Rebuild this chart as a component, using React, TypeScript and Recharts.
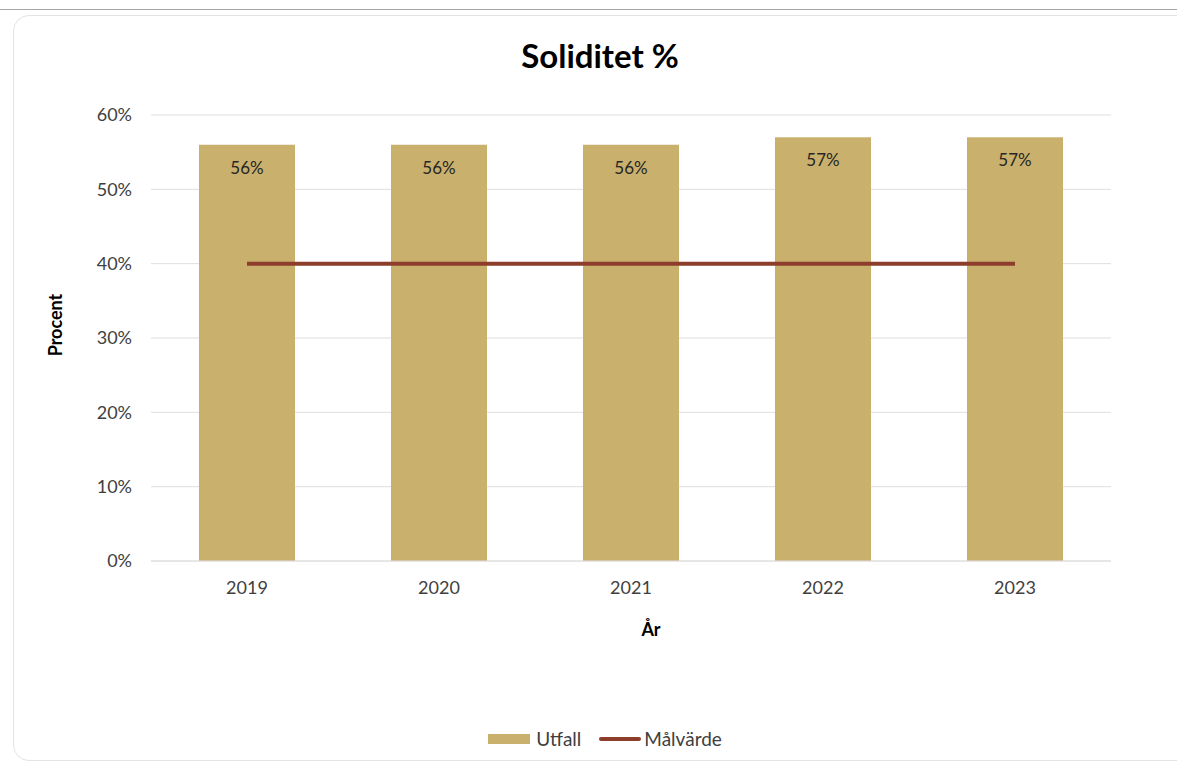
import React from "react";
import {
  ComposedChart,
  Bar,
  Line,
  XAxis,
  YAxis,
  CartesianGrid,
  Legend,
  LabelList,
  Label,
} from "recharts";

// ---------------------------------------------------------------------------
// Data
// ---------------------------------------------------------------------------

const YEARS = ["2019", "2020", "2021", "2022", "2023"];
const UTFALL = [56, 56, 56, 57, 57];
const MALVARDE = [40, 40, 40, 40, 40];
const Y_TICKS = [0, 10, 20, 30, 40, 50, 60];

const data = YEARS.map((year, i) => ({
  year,
  utfall: UTFALL[i],
  malvarde: MALVARDE[i],
}));

const FONT = "Lato, 'Open Sans', sans-serif";
const BAR_COLOR = "#c9b06c";
const LINE_COLOR = "#8c3d2b";

// ---------------------------------------------------------------------------
// Legend
// ---------------------------------------------------------------------------

function ChartLegend() {
  return (
    <div
      style={{
        display: "flex",
        justifyContent: "center",
        alignItems: "center",
        fontFamily: FONT,
        fontSize: 19,
        color: "#404040",
      }}
    >
      <span style={{ display: "inline-block", width: 42, height: 10, background: BAR_COLOR, marginRight: 6 }} />
      <span style={{ marginRight: 18 }}>Utfall</span>
      <span
        style={{
          display: "inline-block",
          width: 42,
          height: 4,
          borderRadius: 2,
          background: LINE_COLOR,
          marginRight: 3,
        }}
      />
      <span>Målvärde</span>
    </div>
  );
}

// ---------------------------------------------------------------------------
// Component
// ---------------------------------------------------------------------------

export default function App() {
  return (
    <div style={{ position: "absolute", left: 0, top: 0, width: 1177, height: 763, background: "#fff", overflow: "hidden" }}>
      <div style={{ position: "absolute", left: 0, top: 9, width: 1177, height: 1, background: "#a6a6a6" }} />
      <div
        style={{
          position: "absolute",
          left: 13,
          top: 15,
          width: 1190,
          height: 744,
          border: "1px solid #e3e3e3",
          borderRadius: 16,
        }}
      />
      <div
        style={{
          position: "absolute",
          left: 0,
          top: 34,
          width: 1200,
          textAlign: "center",
          fontFamily: FONT,
          fontWeight: 700,
          fontSize: 33,
          lineHeight: "42px",
          color: "#000",
        }}
      >
        Soliditet %
      </div>
      <div style={{ position: "absolute", left: 0, top: 0 }}>
        <ComposedChart
          width={1177}
          height={763}
          data={data}
          margin={{ top: 115, right: 66, left: 0, bottom: 89 }}
          barCategoryGap="25%"
        >
          <CartesianGrid vertical={false} stroke="#dedede" />
          <XAxis
            dataKey="year"
            height={90}
            axisLine={{ stroke: "#dedede" }}
            tickLine={false}
            tick={{ fontFamily: FONT, fontSize: 18, fill: "#404040" }}
            tickMargin={14}
          >
            <Label
              value="År"
              position="insideTop"
              offset={62}
              dx={20}
              style={{ fontFamily: FONT, fontSize: 18, fontWeight: 700, fill: "#000" }}
            />
          </XAxis>
          <YAxis
            width={151}
            domain={[0, 60]}
            ticks={Y_TICKS}
            axisLine={false}
            tickLine={false}
            tickMargin={13}
            tickFormatter={(v: number) => `${v}%`}
            tick={{ fontFamily: FONT, fontSize: 18, fill: "#404040" }}
          >
            <Label
              value="Procent"
              content={() => (
                <text
                  x={55}
                  y={325}
                  transform="rotate(-90 55 325)"
                  textAnchor="middle"
                  dominantBaseline="central"
                  style={{ fontFamily: FONT, fontSize: 18, fontWeight: 700, fill: "#000" }}
                >
                  Procent
                </text>
              )}
            />
          </YAxis>
          <Legend
            verticalAlign="bottom"
            content={() => <ChartLegend />}
            wrapperStyle={{ position: "absolute", top: 727, bottom: "auto", left: 0, width: 1210 }}
          />
          <Bar dataKey="utfall" name="Utfall" fill={BAR_COLOR} isAnimationActive={false}>
            <LabelList
              dataKey="utfall"
              position="insideTop"
              offset={17}
              formatter={(v: number) => `${v}%`}
              style={{ fontFamily: FONT, fontSize: 17, fill: "#262626" }}
            />
          </Bar>
          <Line
            dataKey="malvarde"
            name="Målvärde"
            stroke={LINE_COLOR}
            strokeWidth={4}
            dot={false}
            activeDot={false}
            type="linear"
            isAnimationActive={false}
          />
        </ComposedChart>
      </div>
    </div>
  );
}
